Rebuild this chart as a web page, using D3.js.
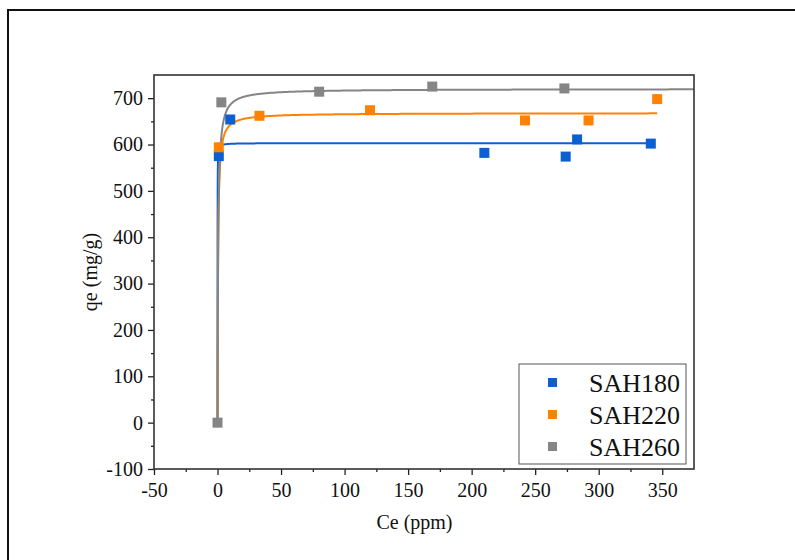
<!DOCTYPE html>
<html>
<head>
<meta charset="utf-8">
<script src="https://cdn.jsdelivr.net/npm/d3@7"></script>
<style>
  body { margin: 0; background: #fff; }
  svg { display: block; }
  svg text { font-family: "Liberation Serif", "Times New Roman", serif; }
</style>
</head>
<body>
<div id="chart"></div>
<script>
// series names and colours
var seriesNames = ["SAH180", "SAH220", "SAH260"];
var seriesColors = ["#0a5fd1", "#ff8205", "#858585"];

// measured points (Ce ppm, qe mg/g)
var sah180Ce = [1, 10, 210, 274, 283, 341];
var sah180Qe = [575, 654, 582, 574, 611, 602];
var sah220Ce = [1, 33, 120, 242, 292, 346];
var sah220Qe = [594, 662, 674, 652, 652, 698];
var sah260Ce = [0, 3, 80, 169, 273];
var sah260Qe = [0, 691, 714, 725, 721];

// Langmuir fit parameters
var fitQmax = [603, 668, 720];
var fitK = [40, 2.5, 2];
var fitEnd = [341, 346, 375];

var xTicks = [-50, 0, 50, 100, 150, 200, 250, 300, 350];
var yTicks = [-100, 0, 100, 200, 300, 400, 500, 600, 700];

var W = 795, H = 560;
var margin = {left: 154, top: 75, right: 101, bottom: 91};
var pw = W - margin.left - margin.right, ph = H - margin.top - margin.bottom;

var svg = d3.select("#chart").append("svg").attr("width", W).attr("height", H);

// outer page frame (right/bottom run off the picture)
svg.append("rect").attr("x", 8).attr("y", 10).attr("width", 900).attr("height", 700)
  .attr("fill", "none").attr("stroke", "#111").attr("stroke-width", 2);

var x = d3.scaleLinear().domain([-50, 375]).range([0, pw]);
var y = d3.scaleLinear().domain([-100, 750]).range([ph, 0]);

var g = svg.append("g").attr("transform", "translate(" + margin.left + "," + margin.top + ")");

svg.append("defs").append("clipPath").attr("id", "clip")
  .append("rect").attr("width", pw).attr("height", ph);

var fmt = function (d) { return String(d); }; // plain hyphen minus like the original

// minor ticks
g.append("g").attr("transform", "translate(0," + ph + ")")
  .call(d3.axisBottom(x).tickValues(d3.range(-25, 375, 50)).tickSize(3).tickFormat(""))
  .call(function (s) { s.select(".domain").remove(); s.selectAll("line").attr("stroke", "#222").attr("stroke-width", 1.3); });
g.append("g")
  .call(d3.axisLeft(y).tickValues(d3.range(-50, 750, 100)).tickSize(3).tickFormat(""))
  .call(function (s) { s.select(".domain").remove(); s.selectAll("line").attr("stroke", "#222").attr("stroke-width", 1.3); });

// major ticks
var xAxis = g.append("g").attr("transform", "translate(0," + ph + ")")
  .call(d3.axisBottom(x).tickValues(xTicks).tickSize(6).tickPadding(8).tickFormat(fmt));
var yAxis = g.append("g")
  .call(d3.axisLeft(y).tickValues(yTicks).tickSize(6).tickPadding(5).tickFormat(fmt));
[xAxis, yAxis].forEach(function (a) {
  a.select(".domain").remove();
  a.selectAll("line").attr("stroke", "#222").attr("stroke-width", 1.3);
  a.selectAll("text").style("font-size", "20px").attr("fill", "#111");
});

// fitted curves
var line = d3.line().x(function (d) { return x(d[0]); }).y(function (d) { return y(d[1]); });
var curves = g.append("g").attr("clip-path", "url(#clip)");
seriesNames.forEach(function (n, i) {
  var pts = [];
  for (var c = 0; c <= fitEnd[i]; c += (c < 2 ? 0.01 : (c < 30 ? 0.2 : 2))) {
    pts.push([c, fitQmax[i] * fitK[i] * c / (1 + fitK[i] * c)]);
  }
  pts.push([fitEnd[i], fitQmax[i] * fitK[i] * fitEnd[i] / (1 + fitK[i] * fitEnd[i])]);
  curves.append("path").datum(pts).attr("d", line)
    .attr("fill", "none").attr("stroke", seriesColors[i]).attr("stroke-width", 2);
});

// measured points
var pointSets = [
  d3.zip(sah180Ce, sah180Qe),
  d3.zip(sah220Ce, sah220Qe),
  d3.zip(sah260Ce, sah260Qe)
];
var sz = 10;
pointSets.forEach(function (pts, i) {
  g.append("g").selectAll("rect").data(pts).enter().append("rect")
    .attr("x", function (d) { return x(d[0]) - sz / 2; })
    .attr("y", function (d) { return y(d[1]) - sz / 2; })
    .attr("width", sz).attr("height", sz)
    .attr("fill", seriesColors[i]);
});

// plot frame
g.append("rect").attr("width", pw).attr("height", ph)
  .attr("fill", "none").attr("stroke", "#333").attr("stroke-width", 1.6);

// axis titles
svg.append("text").attr("x", margin.left + x(155)).attr("y", 529)
  .attr("text-anchor", "middle").style("font-size", "20px").attr("fill", "#111").text("Ce (ppm)");
svg.append("text").attr("transform", "translate(97," + 272 + ") rotate(-90)")
  .attr("text-anchor", "middle").style("font-size", "20px").attr("fill", "#111").text("qe (mg/g)");

// legend
var lg = svg.append("g").attr("transform", "translate(519,364)");
lg.append("rect").attr("width", 167).attr("height", 100)
  .attr("fill", "#fff").attr("stroke", "#555").attr("stroke-width", 1);
seriesNames.forEach(function (n, i) {
  var row = lg.append("g").attr("transform", "translate(0," + (18 + i * 32) + ")");
  row.append("rect").attr("x", 29).attr("y", -4).attr("width", 9).attr("height", 9)
    .attr("fill", seriesColors[i]);
  row.append("text").attr("x", 70).attr("y", 1).attr("dy", "0.35em")
    .style("font-size", "26px").attr("fill", "#111").text(n);
});
</script>
</body>
</html>
